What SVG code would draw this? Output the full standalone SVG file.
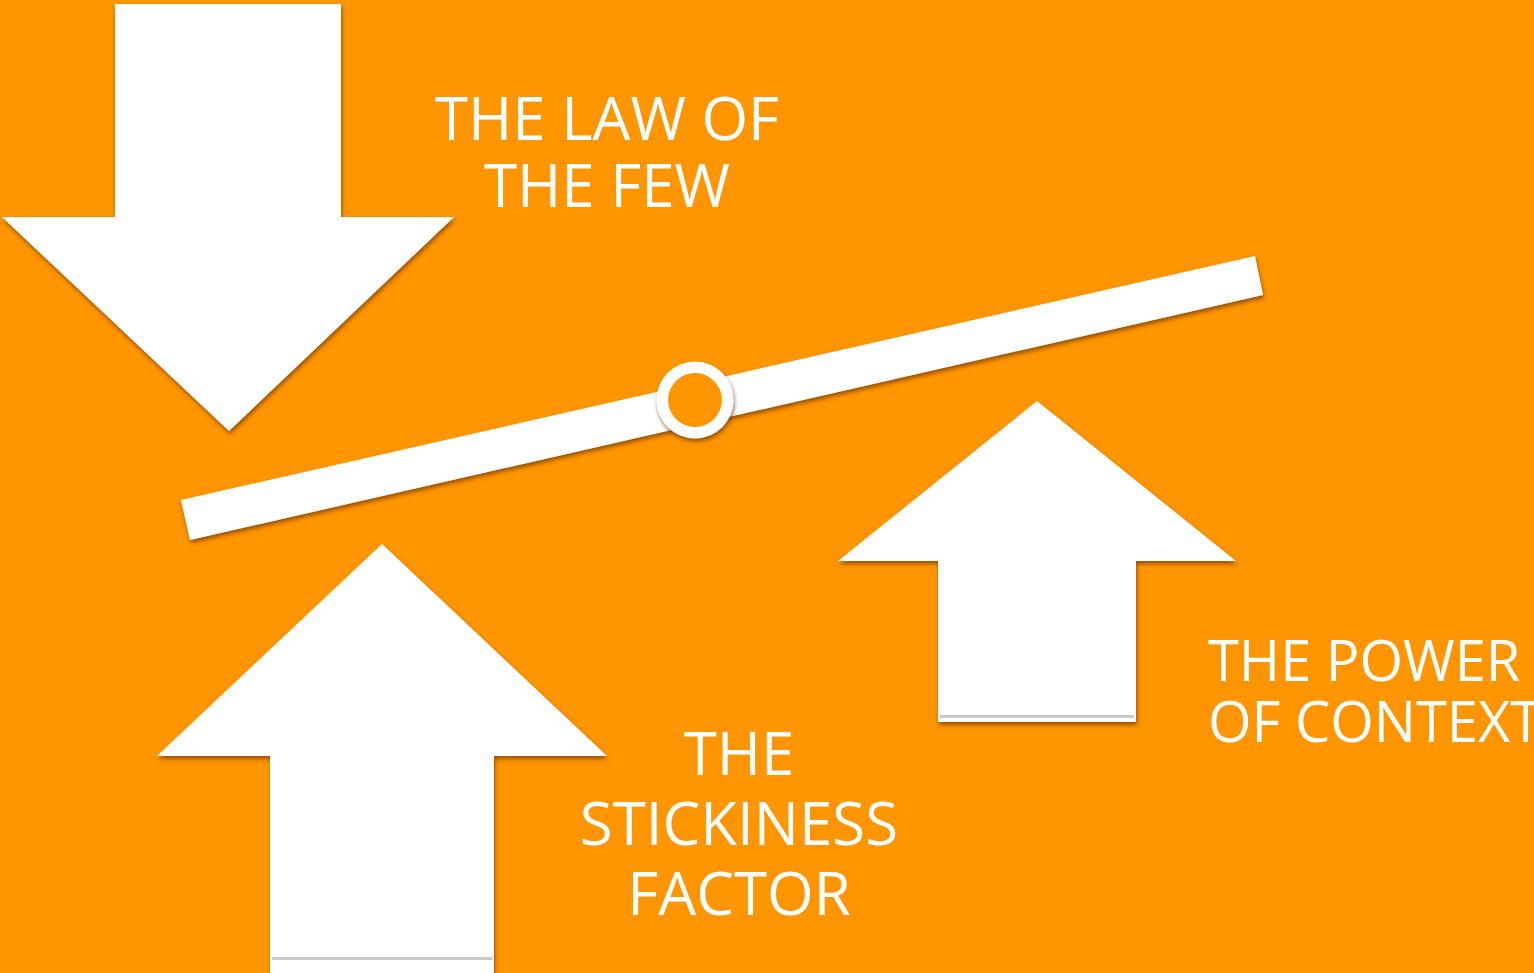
<svg xmlns="http://www.w3.org/2000/svg" width="1534" height="973" viewBox="0 0 1534 973">
<defs>
<filter id="sh" x="-10%" y="-10%" width="120%" height="120%">
<feDropShadow dx="1" dy="3" stdDeviation="2.2" flood-color="#6e3500" flood-opacity="0.7"/>
</filter>
<style>
.shape{fill:#ffffff;filter:url(#sh);}
.lbl{font-family:"Open Sans","Liberation Sans",sans-serif;fill:#ffffff;text-anchor:middle;}
.edge{fill:#c9c9cc;}
</style>
</defs>
<rect x="0" y="0" width="1534" height="973" fill="#ff9500"/>
<g id="connectors">
<polygon id="beam" class="shape" points="181,500 1255,256 1263,295 190,540"/>
</g>
<g id="pivot">
<circle cx="695" cy="400" r="38.5" class="shape"/>
<circle cx="695" cy="400" r="27" fill="#ff9500"/>
</g>
<g id="law-of-the-few">
<polygon class="shape" points="115,4 341,4 341,217 454,217 229,431 2,217 115,217"/>
<text class="lbl" font-size="60" x="607" y="140">THE LAW OF</text>
<text class="lbl" font-size="60" x="607" y="207">THE FEW</text>
</g>
<g id="stickiness-factor">
<polygon class="shape" points="382,544 607,756 494,756 494,973 270,973 270,756 157,756"/>
<rect class="edge" x="272" y="957" width="220" height="3"/>
<text class="lbl" font-size="60" x="739" y="775">THE</text>
<text class="lbl" font-size="60" x="739" y="845">STICKINESS</text>
<text class="lbl" font-size="60" x="739" y="915">FACTOR</text>
</g>
<g id="power-of-context">
<polygon class="shape" points="1037,401 1236,561 1136,561 1136,722 938,722 938,561 838,561"/>
<rect class="edge" x="940" y="715" width="194" height="3"/>
<text class="lbl" font-size="56" x="1208" y="681" style="text-anchor:start">THE POWER</text>
<text class="lbl" font-size="56" x="1208" y="742" style="text-anchor:start">OF CONTEXT</text>
</g>
</svg>
